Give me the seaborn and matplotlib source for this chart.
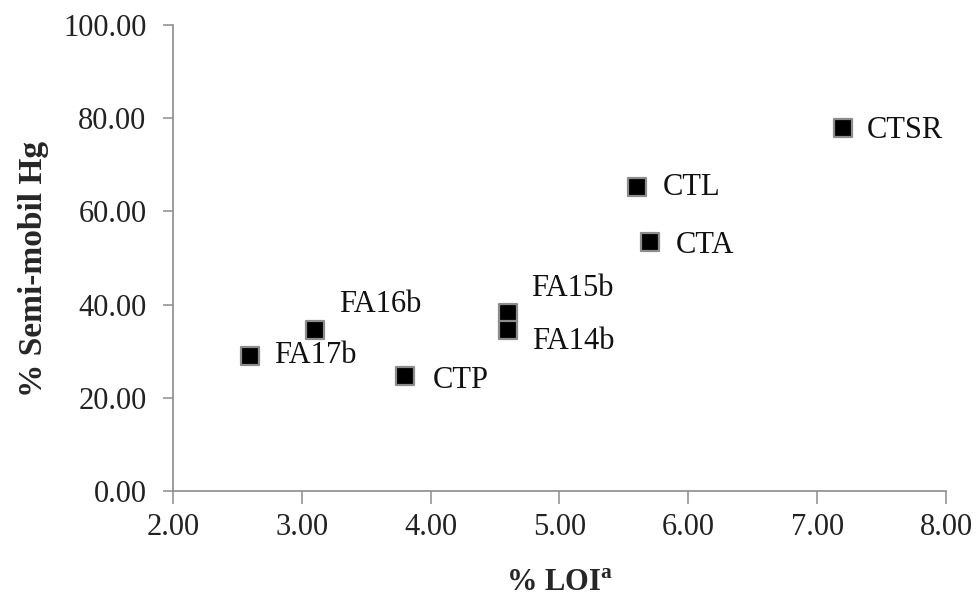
import matplotlib
matplotlib.use("Agg")
import pandas as pd
import seaborn as sns
import matplotlib.pyplot as plt
from matplotlib.ticker import FormatStrFormatter

# data
samples = ["FA17b", "FA16b", "CTP", "FA15b", "FA14b", "CTL", "CTA", "CTSR"]
loi = [2.6, 3.1, 3.8, 4.6, 4.6, 5.6, 5.7, 7.2]
semi_mobil_hg = [29.0, 34.5, 24.6, 38.2, 34.5, 65.2, 53.4, 78.0]

# label offsets in pixels (dx, dy), dy up
label_offsets = [(24, 0), (24, 26), (28, -4), (23, 24), (24, -11), (26, 0), (26, -3), (24, -3)]

df = pd.DataFrame({"Sample": samples, "LOI": loi, "Hg": semi_mobil_hg})

sns.set_style("white")
plt.rcParams["font.family"] = ["Liberation Serif", "DejaVu Serif"]
plt.rcParams["mathtext.fontset"] = "custom"
plt.rcParams["mathtext.rm"] = "Liberation Serif"
plt.rcParams["mathtext.bf"] = "Liberation Serif:bold"

fig = plt.figure(figsize=(9.79, 5.97), dpi=100)
ax = fig.add_axes([173 / 979, 1 - 491 / 597, (946 - 173) / 979, (491 - 25) / 597])

sns.scatterplot(data=df, x="LOI", y="Hg", marker="s", s=175, color="black",
                edgecolor="#8c8c8c", linewidth=1.6, ax=ax, zorder=3, legend=False)

for name, x, y, (dx, dy) in zip(samples, loi, semi_mobil_hg, label_offsets):
    ax.annotate(name, (x, y), xytext=(dx, dy), textcoords="offset pixels",
                ha="left", va="center", fontsize=22, color="#111111")

ax.set_xlim(2, 8)
ax.set_ylim(0, 100)
ax.set_xticks([2, 3, 4, 5, 6, 7, 8])
ax.set_yticks([0, 20, 40, 60, 80, 100])
ax.xaxis.set_major_formatter(FormatStrFormatter("%.2f"))
ax.yaxis.set_major_formatter(FormatStrFormatter("%.2f"))

for side in ["top", "right"]:
    ax.spines[side].set_visible(False)
for side in ["left", "bottom"]:
    ax.spines[side].set_color("#8c8c8c")
    ax.spines[side].set_linewidth(1.2)

ax.tick_params(axis="y", direction="out", length=7, width=1.1, color="#8c8c8c",
               labelsize=22, labelcolor="#222222", pad=12, left=True)
ax.tick_params(axis="x", direction="out", length=9, width=1.1, color="#8c8c8c",
               labelsize=22, labelcolor="#222222", pad=7, bottom=True)

ax.set_xlabel(r"% LOI$^{\mathbf{a}}$", fontsize=22, fontweight="bold", labelpad=19)
ax.set_ylabel("% Semi-mobil Hg", fontsize=24, fontweight="bold", labelpad=10)
ax.yaxis.label.set_y(0.476)
ax.grid(False)

plt.savefig("out.png", dpi=100)
plt.close()
